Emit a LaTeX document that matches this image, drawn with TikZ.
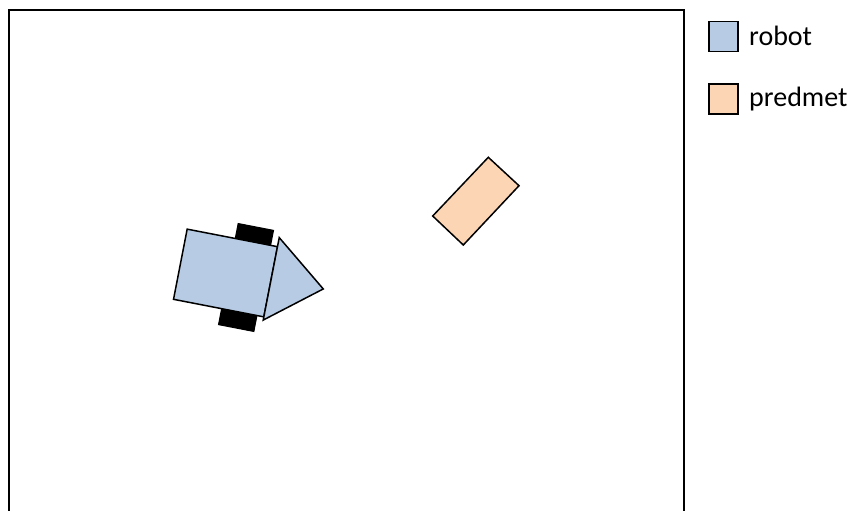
\documentclass[tikz,border=0pt]{standalone}
\usepackage{fontspec}
\setmainfont{Carlito}
\definecolor{robotblue}{RGB}{183,204,228}
\definecolor{itemorange}{RGB}{252,214,180}
\tikzset{
  part/.style={draw=black, line width=1.5pt, line join=miter},
  wheel/.style={fill=black, draw=black, line width=1pt},
  legendbox/.style={part, minimum width=29pt, minimum height=30pt, inner sep=0pt, anchor=north west},
  legendtext/.style={anchor=west, inner sep=0pt, font=\fontsize{28}{32}\selectfont}
}
\begin{document}
\begin{tikzpicture}[x=1pt,y=-1pt]
\useasboundingbox (0,0) rectangle (854,511);
% field
\begin{scope}
\clip (0,0) rectangle (854,511);
\draw[line width=2pt] (9,530) -- (9,10) -- (684,10) -- (684,530);
\end{scope}
% robot
\begin{scope}[shift={(225.5,273)}, rotate=-11]
\fill[wheel] (3,-51) rectangle (39,-30);
\fill[wheel] (3,30) rectangle (39,52);
\draw[part, fill=robotblue] (-46,-35.75) rectangle (46,35.75);
\draw[part, fill=robotblue] (46,-45) -- (99,-3) -- (46,39) -- cycle;
\end{scope}
% object
\draw[part, fill=itemorange] (488.3,157.3) -- (519,185.7) -- (463.3,245) -- (432.7,216) -- cycle;
% legend
\node[legendbox, fill=robotblue] (lr) at (708,21) {};
\node[legendtext] (lrt) at (749,36) {robot};
\node[legendbox, fill=itemorange] (lp) at (708,83) {};
\node[legendtext] (lpt) at (749,99) {predmet};
\end{tikzpicture}
\end{document}
